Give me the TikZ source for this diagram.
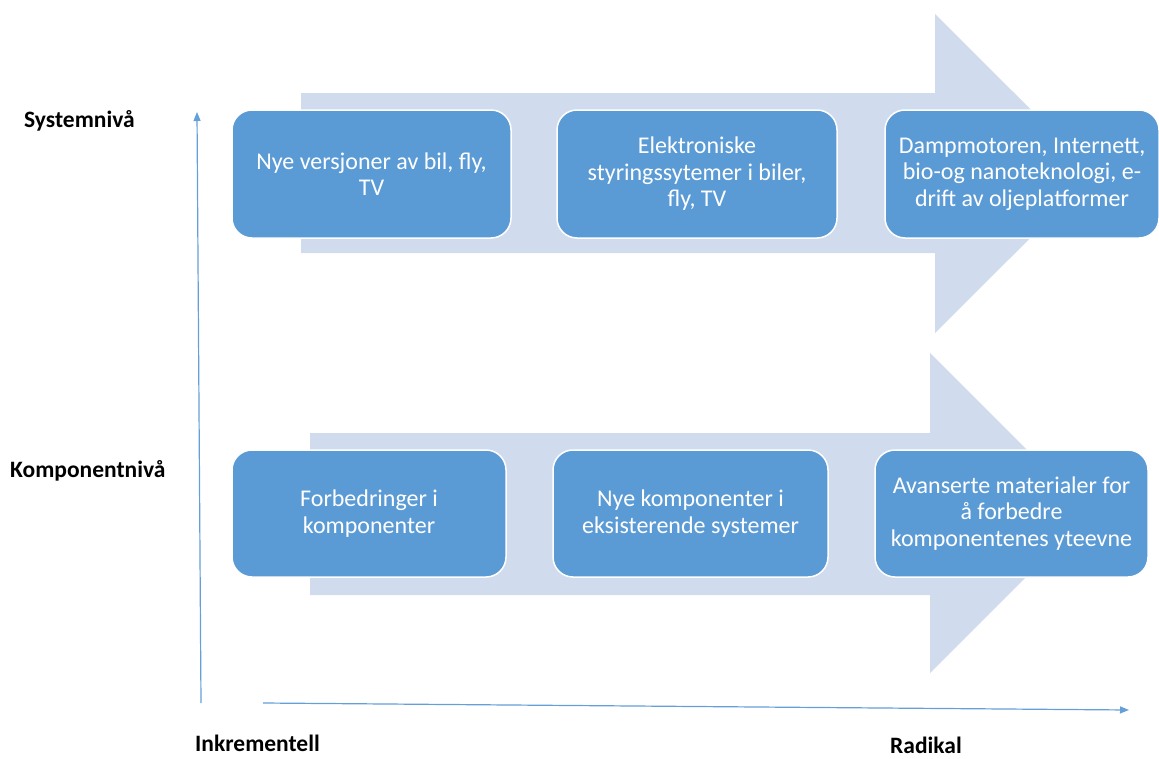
\documentclass[tikz,border=0pt]{standalone}
\usepackage{fontspec}
\setmainfont{Carlito}
\usetikzlibrary{arrows.meta}
\definecolor{boxblue}{RGB}{91,155,213}
\definecolor{arrowbg}{RGB}{208,220,238}
\definecolor{axisblue}{RGB}{100,160,215}
\tikzset{
  innov/.style={draw=white, line width=1.5pt, fill=boxblue, rounded corners=20pt,
    text=white, align=center, inner sep=0pt,
    font=\fontsize{24}{26.5}\selectfont},
  biglabel/.style={font=\fontsize{23.5}{26}\selectfont\bfseries, text=black, inner sep=0pt},
  axis/.style={draw=axisblue, line width=1.2pt, -{Triangle[length=9pt,width=7pt]}}
}
\begin{document}
\begin{tikzpicture}[x=1pt,y=-1pt]
\useasboundingbox (0,0) rectangle (1159,758);
% background arrows
\fill[arrowbg] (301,93) -- (935,93) -- (935,14) -- (1095,173.5) -- (935,333) -- (935,253) -- (301,253) -- cycle;
\fill[arrowbg] (310,433) -- (930,433) -- (930,353) -- (1090,513) -- (930,673) -- (930,595) -- (310,595) -- cycle;
% boxes top row
\node[innov, minimum width=279pt, minimum height=128pt] (s1) at (371.5,174) {Nye versjoner av bil, fly,\\TV};
\node[innov, minimum width=280pt, minimum height=128pt] (s2) at (697,174) {Elektroniske\\styringssytemer i biler,\\fly, TV};
\node[innov, minimum width=274pt, minimum height=128pt] (s3) at (1022,174) {Dampmotoren, Internett,\\bio-og nanoteknologi, e-\\drift av oljeplatformer};
% boxes bottom row
\node[innov, minimum width=274pt, minimum height=127pt] (k1) at (369,513.5) {Forbedringer i\\komponenter};
\node[innov, minimum width=275pt, minimum height=127pt] (k2) at (690.5,513.5) {Nye komponenter i\\eksisterende systemer};
\node[innov, minimum width=273pt, minimum height=127pt] (k3) at (1011.5,513.5) {Avanserte materialer for\\å forbedre\\komponentenes yteevne};
% axes
\coordinate (vbot) at (201,703);
\coordinate (vtop) at (197,112);
\coordinate (hleft) at (263,703);
\coordinate (hright) at (1129,710);
\draw[axis] (vbot) -- (vtop);
\draw[axis] (hleft) -- (hright);
% labels
\node[biglabel, anchor=base west] (sys) at (24,127) {Systemnivå};
\node[biglabel, anchor=base west] (komp) at (10,477) {Komponentnivå};
\node[biglabel, anchor=base west] (ink) at (195,751) {Inkrementell};
\node[biglabel, anchor=base west] (rad) at (890,753) {Radikal};
\end{tikzpicture}
\end{document}
